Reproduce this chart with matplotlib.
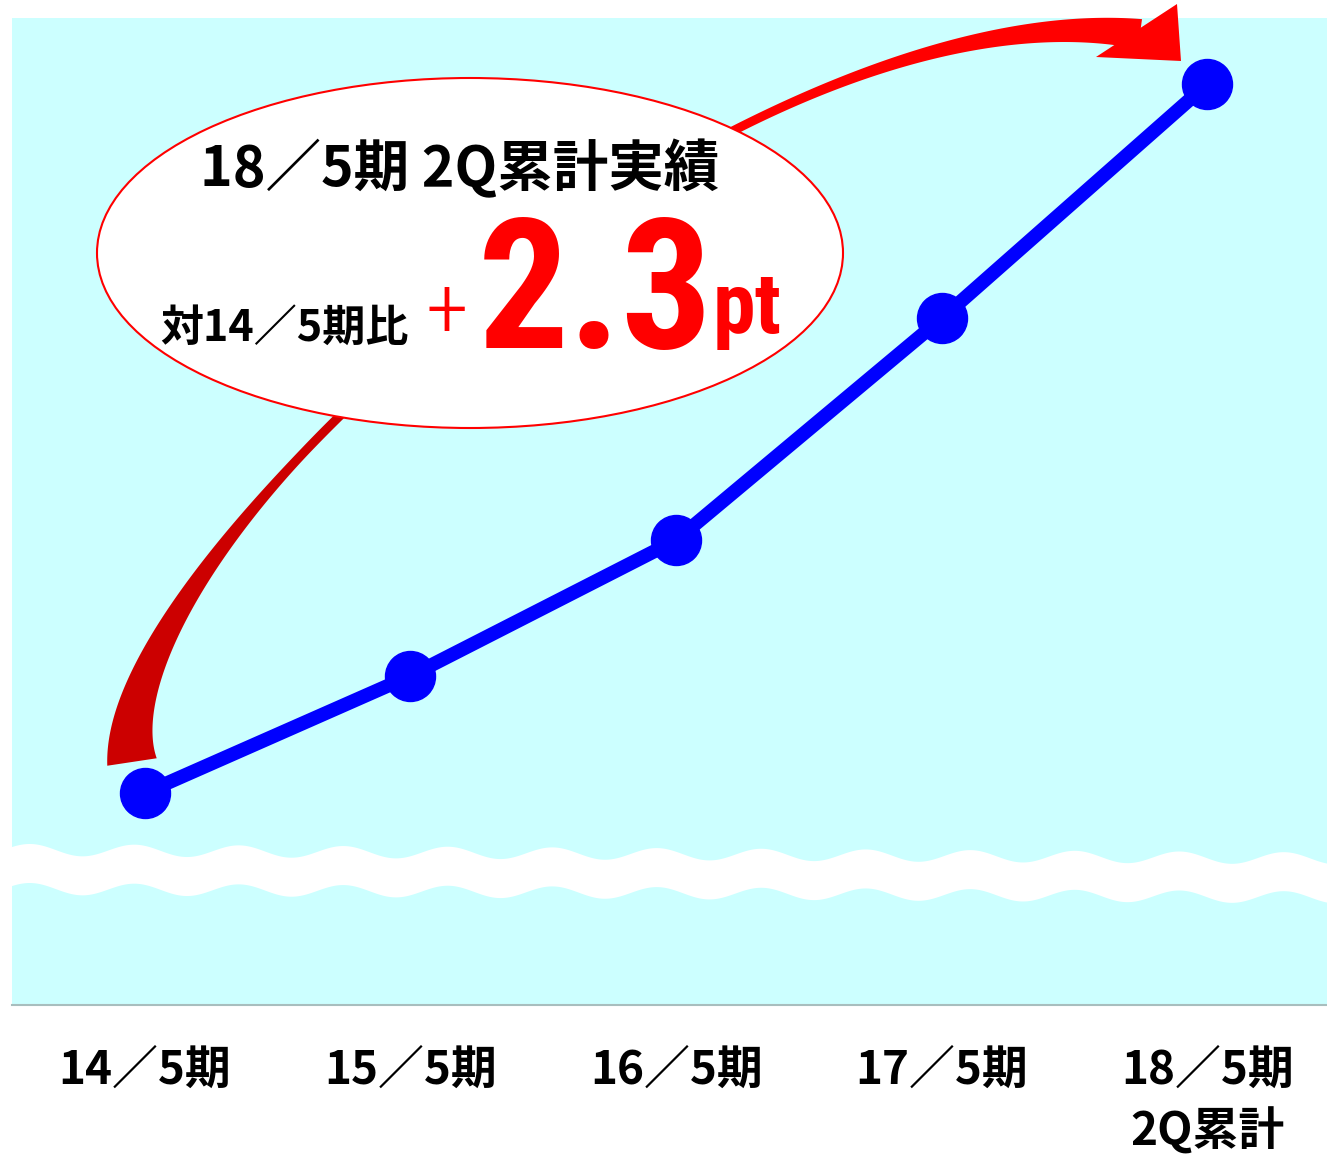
import numpy as np
import matplotlib
matplotlib.use('Agg')
import matplotlib.pyplot as plt
from matplotlib.patches import Ellipse, Polygon
from matplotlib.transforms import Affine2D

plt.rcParams['font.family'] = ['Noto Sans CJK JP', 'DejaVu Sans']
NARROW = ['Roboto Condensed', 'Barlow Condensed', 'Liberation Sans']

# data
periods = ['14／5期', '15／5期', '16／5期', '17／5期', '18／5期\n2Q累計']
gain = [0.0, 0.38, 0.82, 1.54, 2.3]   # pt, vs 14/5期

W, H = 1327, 1156
fig = plt.figure(figsize=(W / 100, H / 100), dpi=100)
ax = fig.add_axes([12 / W, (H - 1005) / H, (W - 12) / W, (1005 - 18) / H])
ax.set_facecolor('#CCFFFF')

# pixel coords (origin top left) for the decorations
px = Affine2D().scale(1 / W, -1 / H).translate(0, 1) + fig.transFigure

# blue line
x = np.arange(len(periods))
ax.plot(x, gain, color='#0000FF', lw=10, marker='o', ms=36,
        zorder=10, clip_on=False)

# wavy white break band
xs = np.linspace(12, W, 800)
top = 850 + 7.5 * (xs - 30) / 1150 - 6 * np.cos(2 * np.pi * (xs - 30) / 104.5)
band = np.concatenate([np.c_[xs, top], np.c_[xs[::-1], top[::-1] + 39]])
ax.add_patch(Polygon(band, closed=True, transform=px, fc='white', lw=0, zorder=2))

# curved arrow (cubic bezier with tapered width)
P = np.array([[132, 762], [100, 550], [740, -20], [1140, 34]], float)
t = np.linspace(0, 1, 400)
pts = ((1 - t) ** 3)[:, None] * P[0] + (3 * (1 - t) ** 2 * t)[:, None] * P[1] \
    + (3 * (1 - t) * t ** 2)[:, None] * P[2] + (t ** 3)[:, None] * P[3]
d = (3 * (1 - t) ** 2)[:, None] * (P[1] - P[0]) + (6 * (1 - t) * t)[:, None] * (P[2] - P[1]) \
    + (3 * t ** 2)[:, None] * (P[3] - P[2])
d = d / np.linalg.norm(d, axis=1)[:, None]
nrm = np.c_[-d[:, 1], d[:, 0]]
w = np.where(t < 0.35, 9 + 41 * np.clip(1 - t / 0.35, 0, 1) ** 1.6,
             np.where(t < 0.7, 9, 9 + 21 * ((t - 0.7) / 0.3) ** 2))
left = pts + nrm * (w / 2)[:, None]
right = pts - nrm * (w / 2)[:, None]
for sel, col in [(t <= 0.5, '#CC0000'), (t >= 0.5, '#FF0000')]:
    poly = np.concatenate([left[sel], right[sel][::-1]])
    ax.add_patch(Polygon(poly, closed=True, transform=px, fc=col, lw=0,
                         zorder=5, clip_on=False))
ax.add_patch(Polygon([[1096, 57], [1181, 61], [1177, 4]], closed=True,
                     transform=px, fc='#FF0000', lw=0, zorder=5, clip_on=False))

# callout ellipse
ax.add_patch(Ellipse((470, 253), 746, 350, transform=px, fc='white',
                     ec='#FF0000', lw=1.5, zorder=6, clip_on=False))
ax.text(460, 186, '18／5期 2Q累計実績', transform=px, ha='center', va='baseline',
        fontsize=40, fontweight='bold', color='black', zorder=7)
ax.text(284, 341, '対14／5期比', transform=px, ha='center', va='baseline',
        fontsize=31, fontweight='bold', color='black', zorder=7)
ax.text(447, 314, '+', transform=px, ha='center', va='center',
        fontsize=62, fontweight='light', color='#FF0000', zorder=7, family=NARROW)
ax.text(478, 348, '2.3', transform=px, ha='left', va='baseline',
        fontsize=130, fontweight='bold', color='#FF0000', zorder=7, family=NARROW)
ax.text(713, 333, 'pt', transform=px, ha='left', va='baseline',
        fontsize=62, fontweight='bold', color='#FF0000', zorder=7, family=NARROW)

ax.set_xlim(-0.5, 4.45)
ax.set_ylim(-0.688, 2.514)
ax.set_xticks(x)
ax.set_xticklabels(periods, fontsize=33, fontweight='bold', linespacing=1.38)
ax.tick_params(axis='x', length=0, pad=31)
ax.set_yticks([])
for s in ['top', 'left', 'right']:
    ax.spines[s].set_visible(False)
ax.spines['bottom'].set_color('#A8BEBE')
ax.spines['bottom'].set_linewidth(1.5)

fig.savefig('out.png', dpi=100)
